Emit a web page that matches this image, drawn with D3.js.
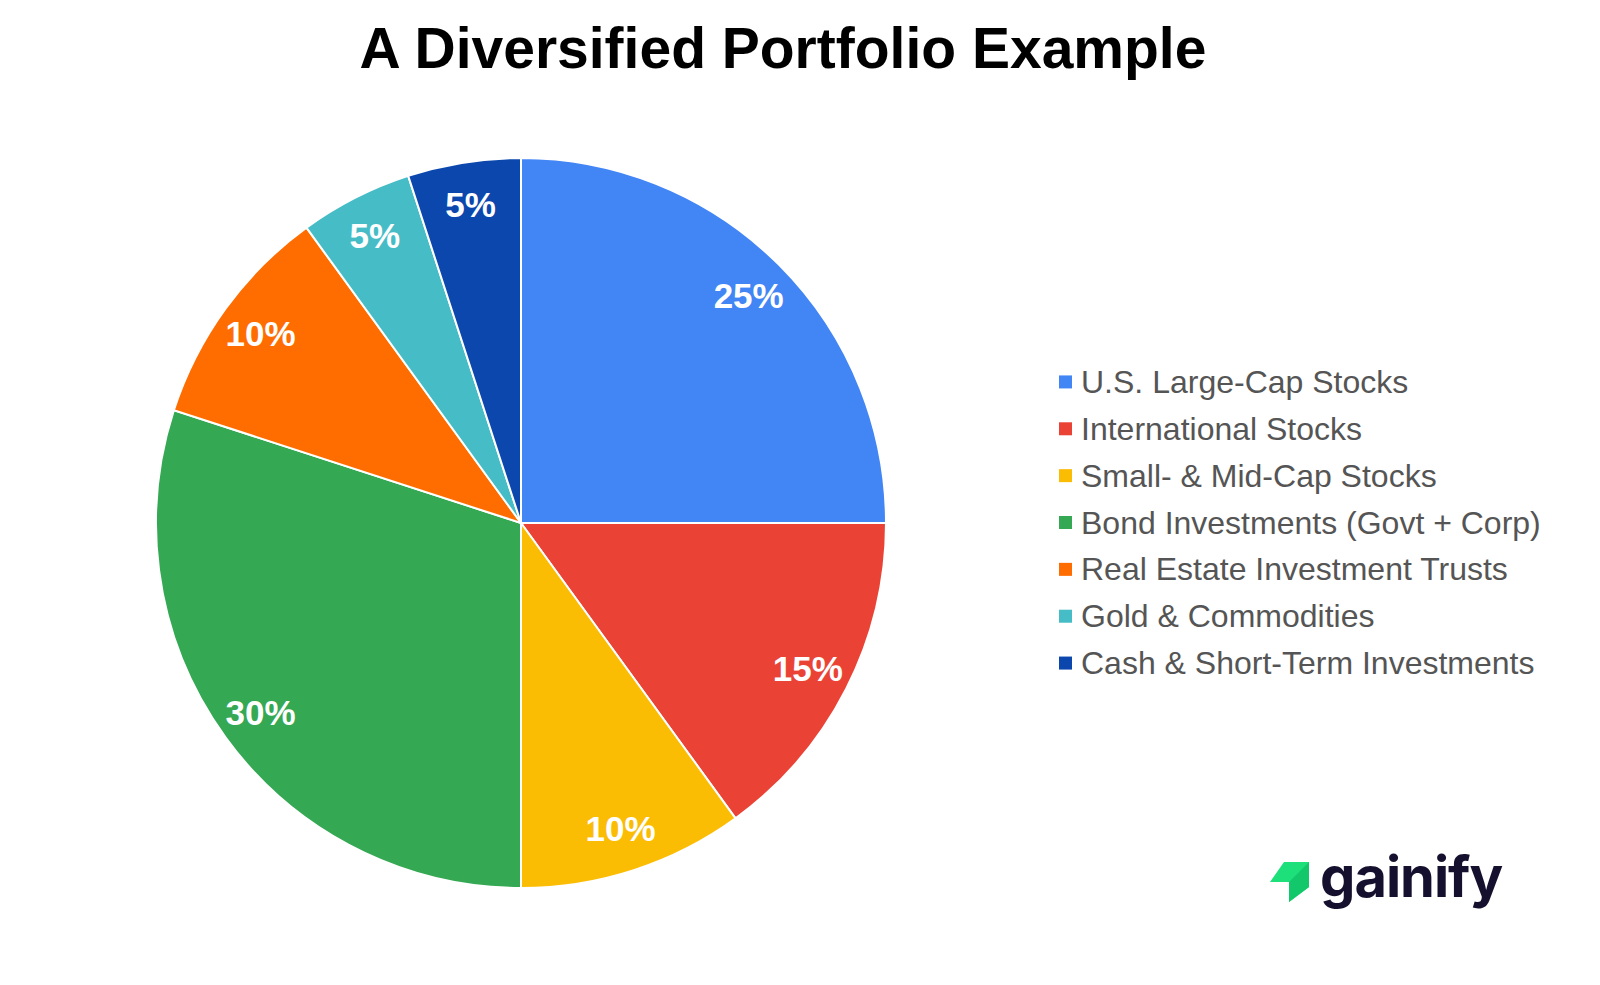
<!DOCTYPE html>
<html><head><meta charset="utf-8">
<script src="https://cdn.jsdelivr.net/npm/d3@7"></script>
<style>body{margin:0;background:#fff}</style></head>
<body><svg id="c" width="1600" height="985"></svg>
<script>
const categories=["U.S. Large-Cap Stocks","International Stocks","Small- & Mid-Cap Stocks","Bond Investments (Govt + Corp)","Real Estate Investment Trusts","Gold & Commodities","Cash & Short-Term Investments"];
const values=[25,15,10,30,10,5,5];
const colors=["#4285F4","#EA4335","#FBBC04","#34A853","#FF6D01","#46BDC6","#0B47AD"];
const svg=d3.select("#c");
svg.append("text").attr("x",783).attr("y",68).attr("text-anchor","middle")
 .attr("font-family","Arial, Liberation Sans, sans-serif").attr("font-weight","bold").attr("font-size",57).attr("fill","#000")
 .text("A Diversified Portfolio Example");
const cx=521,cy=523,R=365;
const data=categories.map((c,i)=>({c,v:values[i],col:colors[i]}));
const pie=d3.pie().value(d=>d.v).sort(null);
const arc=d3.arc().innerRadius(0).outerRadius(R);
const lab=d3.arc().innerRadius(322).outerRadius(322);
const g=svg.append("g").attr("transform",`translate(${cx},${cy})`);
const arcs=pie(data);
g.selectAll("path").data(arcs).join("path").attr("d",arc).attr("fill",d=>d.data.col).attr("stroke","#fff").attr("stroke-width",2);
g.selectAll("text").data(arcs).join("text")
 .attr("transform",d=>{const c=lab.centroid(d);return `translate(${c[0]},${c[1]})`})
 .attr("text-anchor","middle").attr("dy","0.35em")
 .attr("font-family","Arial, Liberation Sans, sans-serif").attr("font-weight","bold").attr("font-size",35).attr("fill","#fff")
 .text(d=>d.data.v+"%");
const lg=svg.append("g");
const y=d3.scaleBand().domain(categories).range([358,686]);
categories.forEach((c,i)=>{
 const yy=y(c)+y.bandwidth()/2;
 lg.append("rect").attr("x",1059).attr("y",yy-6).attr("width",13).attr("height",13).attr("fill",colors[i]);
 lg.append("text").attr("x",1081).attr("y",yy).attr("dy","0.36em").attr("font-family","Arial, Liberation Sans, sans-serif")
  .attr("font-size",32).attr("fill","#555").text(c);
});
svg.append("polygon").attr("points","1284,862 1309,862 1309,887 1289,902 1289,882 1270,882").attr("fill","#1ee07a");
svg.append("polygon").attr("points","1289,882 1309,862 1309,887 1289,902").attr("fill","#12c86a");
svg.append("text").attr("x",1320).attr("y",897).attr("font-family","Inter, sans-serif").attr("font-weight","bold")
 .attr("font-size",56).attr("fill","#14102e").attr("letter-spacing","-1").text("gainify");
</script></body></html>
